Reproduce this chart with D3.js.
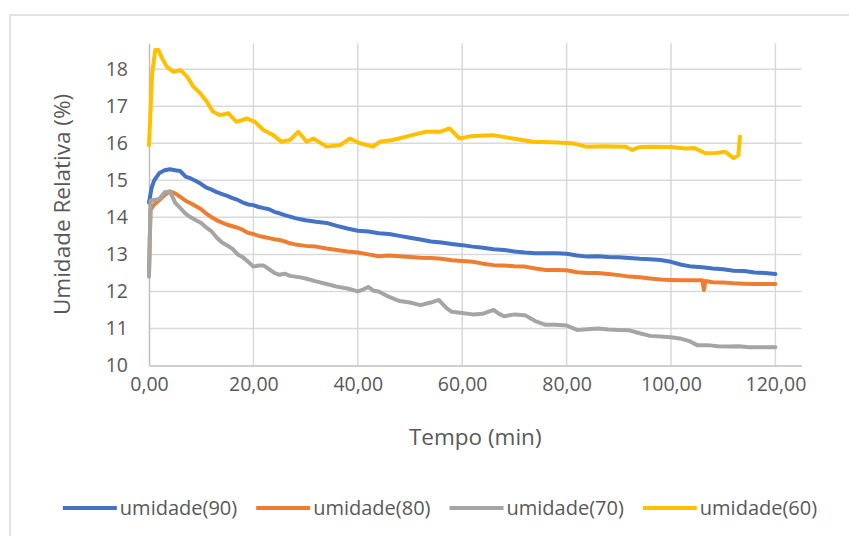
<!DOCTYPE html>
<html><head><meta charset="utf-8">
<script src="https://cdn.jsdelivr.net/npm/d3@7"></script>
<style>
html,body{margin:0;padding:0;background:#fff;}
svg{display:block;font-family:"Open Sans",sans-serif;}
</style></head>
<body><svg id="c" width="849" height="536"></svg>
<script>
// ---- data ----
const seriesNames = ["umidade(90)","umidade(80)","umidade(70)","umidade(60)"];
const seriesColors = ["#4472C4","#ED7D31","#A5A5A5","#FFC000"];
const xTicks = [0,20,40,60,80,100,120];
const yTicks = [10,11,12,13,14,15,16,17,18];

const time90 = [0,0.5,1,2,3,4,5,6,7,8,9,10,11,12,13,14,15,16,17,18,19,20,21,22,23,24,25,26,27,28,29,30,32,34,36,38,40,42,44,46,48,50,52,54,56,58,60,62,64,66,68,70,72,74,76,78,80,82,84,86,88,90,92,94,96,98,100,102,104,106,108,110,112,114,116,118,120];
const umid90 = [14.4,14.8,15.0,15.2,15.27,15.3,15.27,15.25,15.1,15.05,14.98,14.9,14.8,14.75,14.68,14.63,14.58,14.52,14.47,14.4,14.35,14.33,14.28,14.25,14.22,14.15,14.11,14.06,14.02,13.98,13.95,13.92,13.88,13.85,13.77,13.7,13.64,13.62,13.57,13.55,13.5,13.45,13.4,13.35,13.32,13.28,13.25,13.21,13.18,13.14,13.12,13.08,13.05,13.03,13.03,13.03,13.02,12.97,12.94,12.95,12.93,12.92,12.9,12.88,12.87,12.85,12.8,12.72,12.67,12.65,12.62,12.6,12.56,12.55,12.51,12.5,12.47];

const time80 = [0,0.3,1,2,3,4,5,6,7,8,9,10,11,12,13,14,15,16,17,18,19,20,21,22,23,24,25,26,27,28,29,30,32,34,36,38,40,42,44,46,48,50,52,54,56,58,60,62,64,66,68,70,72,74,76,78,80,82,84,86,88,90,92,94,96,98,100,102,104,106,106.3,106.6,108,110,112,114,116,118,120];
const umid80 = [12.5,14.2,14.35,14.47,14.6,14.7,14.65,14.55,14.45,14.38,14.3,14.22,14.1,14.0,13.92,13.86,13.8,13.76,13.72,13.66,13.58,13.55,13.5,13.47,13.44,13.41,13.39,13.35,13.3,13.27,13.25,13.23,13.21,13.16,13.12,13.08,13.05,13.0,12.95,12.97,12.95,12.93,12.91,12.9,12.88,12.84,12.82,12.8,12.75,12.71,12.7,12.68,12.67,12.62,12.58,12.58,12.57,12.52,12.5,12.5,12.47,12.44,12.4,12.38,12.35,12.32,12.31,12.3,12.3,12.3,12.04,12.28,12.25,12.24,12.22,12.21,12.2,12.2,12.2];

const time70 = [0,0.3,1,2,3,4,5,6,7,8,9,10,11,12,13,14,15,16,17,18,19,20,21,22,23,24,25,26,27,28,29,30,32,34,36,38,40,41,42,43,44,46,48,50,52,54,55.5,57,58,60,62,64,66,67,68,70,72,74,76,78,80,82,84,86,88,90,92,94,96,98,100,102,103.5,105,107,109,111,113,115,117,120];
const umid70 = [12.4,14.45,14.47,14.5,14.68,14.7,14.4,14.25,14.1,14.0,13.92,13.85,13.72,13.62,13.45,13.32,13.24,13.15,13.0,12.92,12.8,12.67,12.7,12.7,12.6,12.5,12.45,12.48,12.42,12.4,12.38,12.35,12.27,12.2,12.13,12.08,12.0,12.05,12.12,12.02,12.0,11.85,11.74,11.7,11.63,11.7,11.77,11.55,11.45,11.42,11.38,11.4,11.5,11.4,11.33,11.38,11.36,11.2,11.1,11.1,11.08,10.96,10.98,11.0,10.97,10.96,10.95,10.87,10.8,10.78,10.76,10.72,10.66,10.55,10.55,10.52,10.51,10.52,10.49,10.49,10.49];

const time60 = [0,0.6,1.2,1.8,2.5,3.4,4.7,6,7.3,8.5,9.8,11.1,12.3,13.6,15.2,16.8,18.7,20.3,21.9,23.8,25.4,27,28.6,30.2,31.5,34,36.6,38.5,40.4,42.9,44.2,46.7,49.3,51.8,53.1,55.7,57.6,59.5,62,65.9,69.7,73.5,77,81.2,83.7,87,91.3,92.6,94,96.4,100,102.8,104.5,106.6,108.5,110.4,112,112.9,113.2];
const umid60 = [15.95,17.89,18.52,18.52,18.3,18.07,17.93,17.98,17.8,17.53,17.35,17.12,16.85,16.76,16.81,16.58,16.67,16.58,16.36,16.22,16.04,16.09,16.31,16.04,16.13,15.91,15.95,16.13,16.0,15.91,16.04,16.09,16.18,16.27,16.31,16.31,16.4,16.13,16.2,16.22,16.13,16.04,16.03,16.0,15.91,15.92,15.91,15.82,15.9,15.91,15.9,15.86,15.87,15.73,15.74,15.77,15.6,15.68,16.18];

const times = [time90,time80,time70,time60];
const values = [umid90,umid80,umid70,umid60];

// ---- chart ----
const svg = d3.select("#c");
const textColor = "#595959";
const locale = d3.formatLocale({decimal:",",thousands:".",grouping:[3],currency:["",""]});
const fmt = locale.format(".2f");

const x = d3.scaleLinear().domain([0,125]).range([149,801.5]);
const y = d3.scaleLinear().domain([10,18.7]).range([365.5,43.3]);

// outer border
svg.append("rect").attr("x",10).attr("y",15).attr("width",860).attr("height",540)
  .attr("fill","none").attr("stroke","#d9d9d9").attr("stroke-width",1.5);

// gridlines
svg.append("g").selectAll("line.h").data(yTicks.filter(d=>d>10)).join("line")
  .attr("x1",x(0)).attr("x2",x(125)).attr("y1",d=>y(d)).attr("y2",d=>y(d))
  .attr("stroke","#d9d9d9").attr("stroke-width",1.5);
svg.append("g").selectAll("line.v").data(xTicks.filter(d=>d>0)).join("line")
  .attr("x1",d=>x(d)).attr("x2",d=>x(d)).attr("y1",y(18.7)).attr("y2",y(10))
  .attr("stroke","#d9d9d9").attr("stroke-width",1.5);

// axes
const xAxis = d3.axisBottom(x).tickValues(xTicks).tickFormat(fmt).tickSize(0).tickPadding(12);
const gx = svg.append("g").attr("transform",`translate(0,${y(10)})`).call(xAxis);
gx.select(".domain").attr("stroke","#bfbfbf").attr("stroke-width",1.5);
gx.selectAll("text").attr("fill",textColor).style("font-size","19.5px").style("font-family","'Open Sans',sans-serif");

const yAxis = d3.axisLeft(y).tickValues(yTicks).tickFormat(d3.format("d")).tickSize(0).tickPadding(21);
const gy = svg.append("g").attr("transform",`translate(${x(0)},0)`).call(yAxis);
gy.select(".domain").attr("stroke","#bfbfbf").attr("stroke-width",1.5);
gy.selectAll("text").attr("fill",textColor).style("font-size","19.5px").style("font-family","'Open Sans',sans-serif");

// axis titles
svg.append("text").attr("x",(x(0)+x(125))/2).attr("y",437).attr("dy","0.35em")
  .attr("text-anchor","middle").attr("fill",textColor).style("font-size","22.5px").text("Tempo (min)");
svg.append("text").attr("transform",`translate(62,${(y(10)+y(18.7))/2}) rotate(-90)`).attr("dy","0.35em")
  .attr("text-anchor","middle").attr("fill",textColor).style("font-size","22.5px").text("Umidade Relativa (%)");

// lines
const line = d3.line().x(d=>x(d[0])).y(d=>y(d[1]));
seriesNames.forEach((name,i)=>{
  const pts = times[i].map((t,j)=>[t,values[i][j]]);
  svg.append("path").datum(pts).attr("d",line).attr("fill","none")
    .attr("stroke",seriesColors[i]).attr("stroke-width",4)
    .attr("stroke-linejoin","round").attr("stroke-linecap","round");
});

// legend
const lg = svg.append("g");
let cx = 0;
seriesNames.forEach((name,i)=>{
  const g = lg.append("g");
  g.append("line").attr("x1",0).attr("x2",54).attr("y1",0).attr("y2",0)
    .attr("stroke",seriesColors[i]).attr("stroke-width",4);
  const t = g.append("text").attr("x",57).attr("y",0).attr("dy","0.35em")
    .attr("fill",textColor).style("font-size","20px").text(name);
  const w = 57 + t.node().getComputedTextLength();
  g.attr("transform",`translate(${cx},508)`);
  cx += w + 19;
});
const total = cx - 19;
lg.attr("transform",`translate(${440 - total/2},0)`);
</script>
</body></html>
